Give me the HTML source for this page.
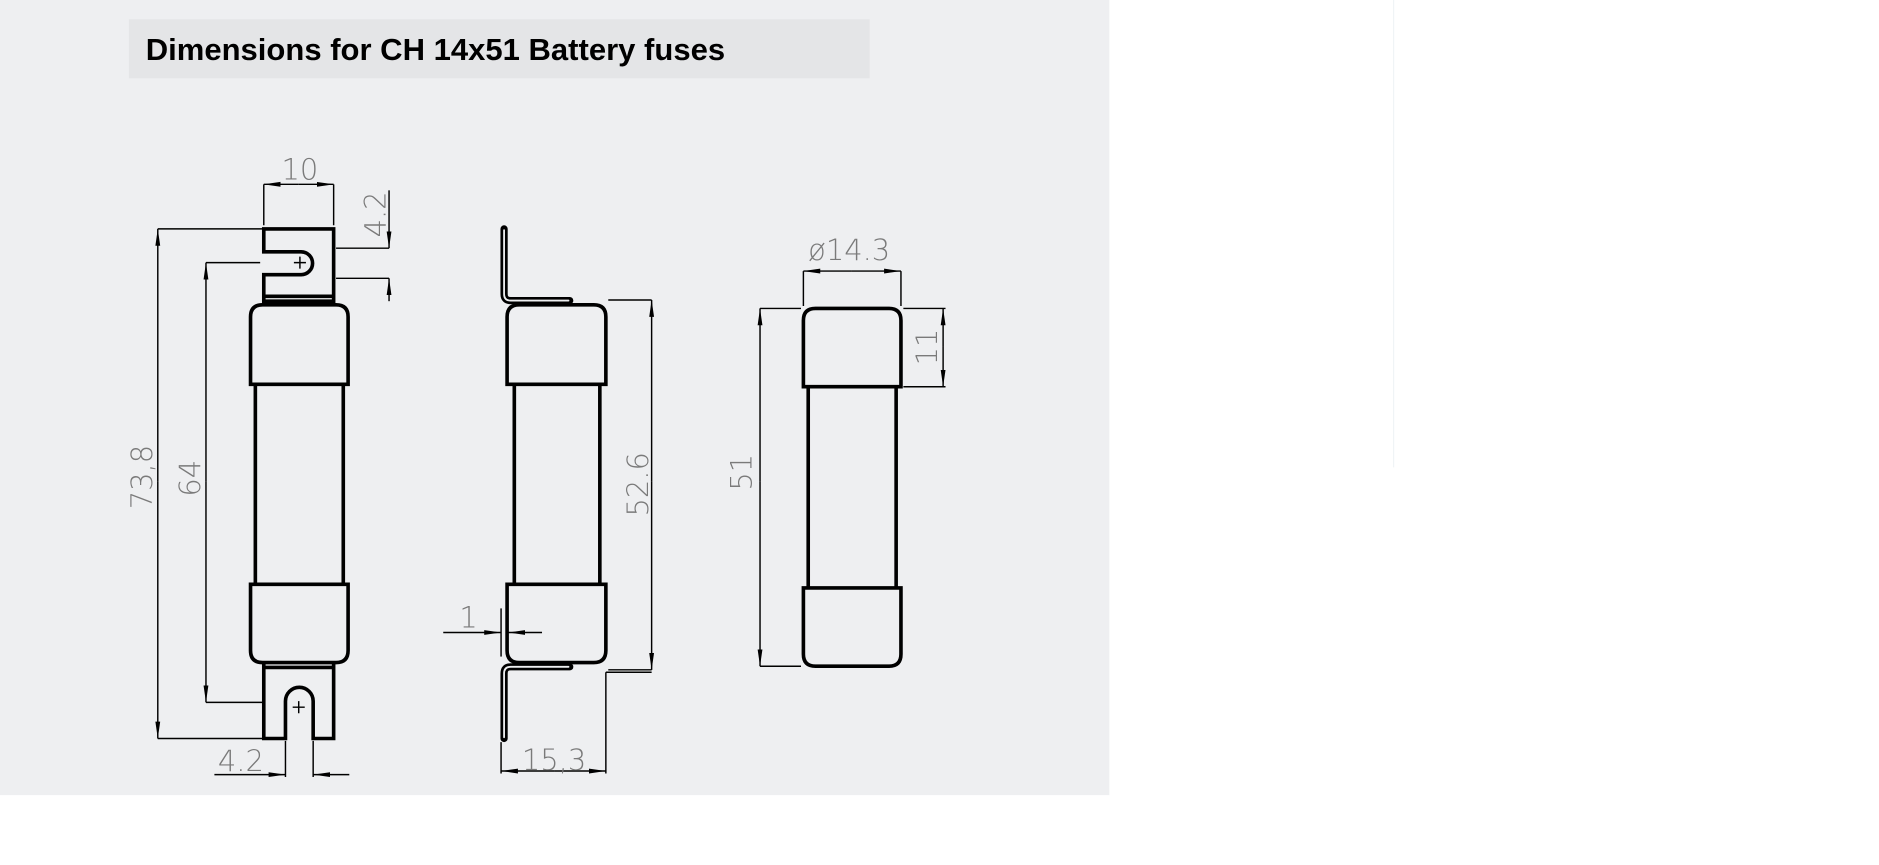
<!DOCTYPE html>
<html><head><meta charset="utf-8"><style>
html,body{margin:0;padding:0;background:#fff;}
svg{display:block;}
</style></head><body>
<svg width="1879" height="865" viewBox="0 0 1560 718" preserveAspectRatio="none" xmlns="http://www.w3.org/2000/svg">
<defs>
<marker id="a" viewBox="0 0 14 5" refX="14" refY="2.5" markerWidth="14" markerHeight="5" markerUnits="userSpaceOnUse" orient="auto"><path d="M0,0.5 L14,2.5 L0,4.5z" fill="#000"/></marker>
</defs>
<rect x="0" y="0" width="1560" height="718" fill="#fff"/>
<rect x="0" y="0" width="921" height="660" fill="#eeeff1"/>
<line x1="1157" y1="0" x2="1157" y2="388" stroke="#f0f4f6" stroke-width="1"/>
<rect x="107" y="16" width="615" height="49" fill="#e4e5e7"/>
<text x="121" y="50" font-family="Liberation Sans, sans-serif" font-weight="bold" font-size="25" fill="#000" textLength="481" lengthAdjust="spacingAndGlyphs">Dimensions for CH 14x51 Battery fuses</text>

<g fill="none" stroke="#000" stroke-width="3">
<path d="M219,190 H277 V250 H219 V228 H250 A9.5,9.5 0 0 0 250,209 H219 Z"/>
<line x1="219" y1="246" x2="277" y2="246"/>
<path d="M208,319 V263 Q208,253 218,253 H279 Q289,253 289,263 V319 Z"/>
<path d="M212,319 V485 M285,319 V485"/>
<path d="M208,485 V540 Q208,550 218,550 H279 Q289,550 289,540 V485 Z"/>
<line x1="219" y1="554" x2="277" y2="554"/>
<path d="M219,551 V613 H237 V582 A11.5,11.5 0 0 1 260,582 V613 H277 V551"/>
<path d="M421,319 V263 Q421,253 431,253 H493 Q503,253 503,263 V319 Z"/>
<path d="M427,319 V485 M498,319 V485"/>
<path d="M421,485 V540 Q421,550 431,550 H493 Q503,550 503,540 V485 Z"/>
<path d="M667,321 V266 Q667,256 677,256 H738 Q748,256 748,266 V321 Z"/>
<path d="M671,321 V488 M744,321 V488"/>
<path d="M667,488 V543 Q667,553 677,553 H738 Q748,553 748,543 V488 Z"/>
</g>
<g fill="none" stroke-linecap="round" stroke-linejoin="round">
<path d="M418.5,190 V244 Q418.5,249.5 424,249.5 H473" stroke="#000" stroke-width="6"/>
<path d="M418.5,191 V244 Q418.5,249.5 424,249.5 H472" stroke="#eeeff1" stroke-width="1.5"/>
<path d="M418.5,613 V559 Q418.5,553.5 424,553.5 H473" stroke="#000" stroke-width="6"/>
<path d="M418.5,612 V559 Q418.5,553.5 424,553.5 H472" stroke="#eeeff1" stroke-width="1.5"/>
</g>
<g fill="none" stroke="#000" stroke-width="1.2">
<path d="M244,218 H254 M249,213 V223"/>
<path d="M243,587 H253 M248,582 V592"/>
<path d="M131,190 H218 M131,613 H218"/>
<line x1="131" y1="400" x2="131" y2="190" marker-end="url(#a)"/>
<line x1="131" y1="400" x2="131" y2="613" marker-end="url(#a)"/>
<path d="M171,218 H216 M171,583 H218"/>
<line x1="171" y1="400" x2="171" y2="218" marker-end="url(#a)"/>
<line x1="171" y1="400" x2="171" y2="583" marker-end="url(#a)"/>
<path d="M219,153 V187 M277,153 V187"/>
<line x1="248" y1="153" x2="219" y2="153" marker-end="url(#a)"/>
<line x1="248" y1="153" x2="277" y2="153" marker-end="url(#a)"/>
<path d="M279,206 H323 M279,231 H323"/>
<line x1="323" y1="158" x2="323" y2="206" marker-end="url(#a)"/>
<line x1="323" y1="250" x2="323" y2="231" marker-end="url(#a)"/>
<path d="M237,615 V645 M260,615 V645"/>
<line x1="178" y1="643" x2="237" y2="643" marker-end="url(#a)"/>
<line x1="290" y1="643" x2="260" y2="643" marker-end="url(#a)"/>
<path d="M505,249 H541 M505,556 H541"/>
<line x1="541" y1="400" x2="541" y2="249" marker-end="url(#a)"/>
<line x1="541" y1="400" x2="541" y2="556" marker-end="url(#a)"/>
<path d="M416,505 V545"/>
<line x1="368" y1="525" x2="416" y2="525" marker-end="url(#a)"/>
<line x1="450" y1="525" x2="422" y2="525" marker-end="url(#a)"/>
<path d="M416,616 V642 M503,558 H541 M503,558 V642"/>
<line x1="460" y1="640" x2="416" y2="640" marker-end="url(#a)"/>
<line x1="460" y1="640" x2="503" y2="640" marker-end="url(#a)"/>
<path d="M667,225 V254 M748,225 V254"/>
<line x1="707" y1="225" x2="667" y2="225" marker-end="url(#a)"/>
<line x1="707" y1="225" x2="748" y2="225" marker-end="url(#a)"/>
<path d="M750,256 H785 M750,321 H785"/>
<line x1="783" y1="288" x2="783" y2="256" marker-end="url(#a)"/>
<line x1="783" y1="288" x2="783" y2="321" marker-end="url(#a)"/>
<path d="M631,256 H665 M631,553 H665"/>
<line x1="631" y1="400" x2="631" y2="256" marker-end="url(#a)"/>
<line x1="631" y1="400" x2="631" y2="553" marker-end="url(#a)"/>
</g>
<g font-family="DejaVu Sans, sans-serif" font-size="24" fill="#7a7a7a" font-weight="200" text-anchor="middle">
<text x="249" y="149">10</text>
<text x="200" y="640">4.2</text>
<text x="389" y="521">1</text>
<text x="460" y="639">15,3</text>
<text x="705" y="216">ø14.3</text>
<text transform="translate(126,396) rotate(-90)">73,8</text>
<text transform="translate(166,397) rotate(-90)">64</text>
<text transform="translate(320,178) rotate(-90)">4.2</text>
<text transform="translate(538,402) rotate(-90)">52.6</text>
<text transform="translate(778,288) rotate(-90)">11</text>
<text transform="translate(624,392) rotate(-90)">51</text>
</g>
</svg>
</body></html>
